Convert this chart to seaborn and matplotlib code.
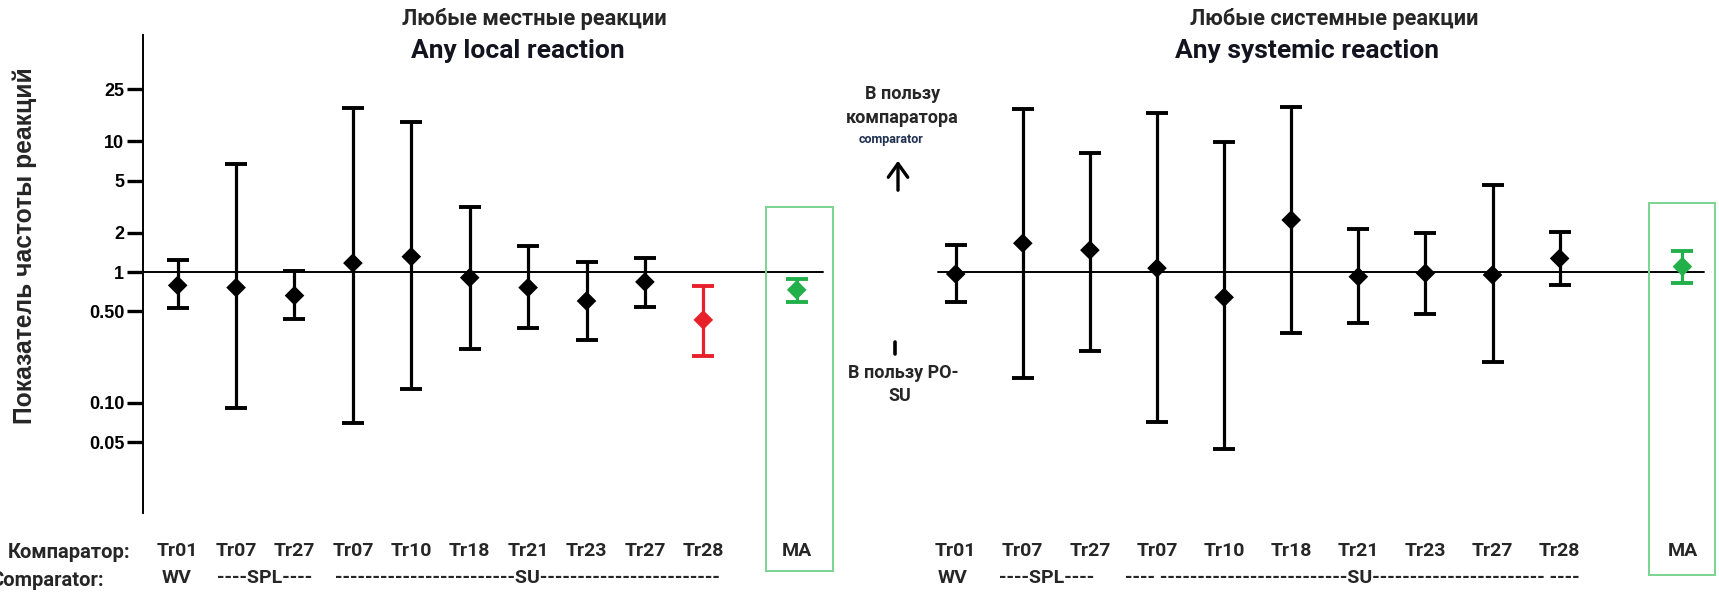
import numpy as np
import pandas as pd
import matplotlib
matplotlib.use("Agg")
import matplotlib.pyplot as plt
from matplotlib.patches import Rectangle, FancyArrowPatch
from matplotlib.lines import Line2D
import seaborn as sns

# ---------------------------------------------------------------- data
trial_labels = ["Tr01", "Tr07", "Tr27", "Tr07", "Tr10", "Tr18",
                "Tr21", "Tr23", "Tr27", "Tr28", "MA"]

local_ratio = [0.79, 0.76, 0.66, 1.17, 1.31, 0.905, 0.76, 0.60, 0.84, 0.43, 0.73]
local_low = [0.53, 0.091, 0.435, 0.070, 0.127, 0.256, 0.37, 0.30, 0.54, 0.228, 0.59]
local_high = [1.23, 6.7, 1.01, 18.1, 14.0, 3.13, 1.58, 1.20, 1.29, 0.78, 0.88]
local_kind = ["trial"] * 9 + ["signif", "pooled"]

systemic_ratio = [0.965, 1.66, 1.47, 1.07, 0.64, 2.5, 0.92, 0.98, 0.95, 1.27, 1.10]
systemic_low = [0.59, 0.155, 0.25, 0.071, 0.044, 0.343, 0.41, 0.48, 0.206, 0.795, 0.83]
systemic_high = [1.61, 17.6, 8.2, 16.4, 9.8, 18.4, 2.13, 2.0, 4.63, 2.03, 1.46]
systemic_kind = ["trial"] * 10 + ["pooled"]

y_ticks = [0.05, 0.10, 0.50, 1, 2, 5, 10, 25]
y_tick_labels = ["0.05", "0.10", "0.50", "1", "2", "5", "10", "25"]

kind_colors = {"trial": "black", "signif": "#e8202a", "pooled": "#22b04b"}

# --------------------------------------------------------------- style
sns.set_theme(style="white")
plt.rcParams["font.family"] = ["Roboto", "DejaVu Sans"]
CAL = ["Roboto", "DejaVu Sans"]
ARIAL = ["Liberation Sans", "DejaVu Sans"]

W, H = 1719, 592
fig = plt.figure(figsize=(W / 100, H / 100), dpi=100)


def rect(x0, y0, x1, y1):
    return [x0 / W, 1 - y1 / H, (x1 - x0) / W, (y1 - y0) / H]


def fx(px):
    return px / W


def fy(py):
    return 1 - py / H


ax1 = fig.add_axes(rect(143, 35, 835, 513))
ax2 = fig.add_axes(rect(925, 35, 1719, 513))

pos_local = np.r_[np.arange(10), 10.6]
pos_sys = np.r_[np.arange(10), 10.83]


def draw_panel(ax, pos, ratio, low, high, kind):
    df = pd.DataFrame({"pos": pos, "ratio": ratio, "low": low,
                       "high": high, "kind": kind})
    ax.set_yscale("log")
    for _, r in df.iterrows():
        ax.errorbar(r["pos"], r["ratio"],
                    yerr=[[r["ratio"] - r["low"]], [r["high"] - r["ratio"]]],
                    fmt="none", ecolor=kind_colors[r["kind"]],
                    elinewidth=2.3, capsize=7.8, capthick=2.8, zorder=2)
    sns.scatterplot(data=df, x="pos", y="ratio", hue="kind",
                    palette=kind_colors, marker="D", s=100, linewidth=0,
                    legend=False, ax=ax, zorder=3)
    ax.set_xlabel("")
    ax.set_ylabel("")
    ax.set_ylim(0.01432, 65.1)
    ax.set_xticks(pos, trial_labels)
    ax.tick_params(axis="x", length=0, pad=21, labelsize=14)
    for t in ax.get_xticklabels():
        t.set_fontfamily(CAL)
        t.set_fontweight("bold")
    ax.yaxis.set_minor_locator(matplotlib.ticker.NullLocator())
    for s in ("top", "right", "bottom"):
        ax.spines[s].set_visible(False)
    ax.patch.set_alpha(0)
    return df


draw_panel(ax1, pos_local, local_ratio, local_low, local_high, local_kind)
draw_panel(ax2, pos_sys, systemic_ratio, systemic_low, systemic_high, systemic_kind)

ax1.set_xlim(-0.594, 11.255)
ax2.set_xlim(-0.4575, 11.375)

# reference line at ratio = 1
ax1.axhline(1, xmin=0, xmax=0.9827, color="black", lw=1.4, zorder=1)
ax2.axhline(1, xmin=0.016, xmax=0.9815, color="black", lw=1.4, zorder=1)

# y axis on the left panel only
ax1.spines["left"].set_color("black")
ax1.spines["left"].set_linewidth(1.4)
ax1.set_yticks(y_ticks, y_tick_labels)
ax1.tick_params(axis="y", left=True, length=11.5, width=2.4, pad=2,
                labelsize=13, colors="black")
for t in ax1.get_yticklabels():
    t.set_fontfamily(ARIAL)
    t.set_fontweight("bold")

ax2.spines["left"].set_visible(False)
ax2.set_yticks([])

# frames round the pooled estimates
box_green = "#7dd38e"
for x0, y0, x1, y1 in [(765.7, 207, 833.3, 571), (1649, 203, 1715, 575)]:
    fig.add_artist(Rectangle((fx(x0), fy(y1)), (x1 - x0) / W, (y1 - y0) / H,
                             transform=fig.transFigure, fill=False,
                             ec=box_green, lw=1.4))

# titles
fig.text(fx(534), fy(19), "Любые местные реакции", ha="center", va="center",
         fontsize=15.7, fontweight="bold", family=CAL)
fig.text(fx(518), fy(51), "Any local reaction", ha="center", va="center",
         fontsize=19, fontweight="bold", family=CAL, color="#141420")
fig.text(fx(1334), fy(19), "Любые системные реакции", ha="center", va="center",
         fontsize=15.7, fontweight="bold", family=CAL)
fig.text(fx(1307), fy(51), "Any systemic reaction", ha="center", va="center",
         fontsize=19, fontweight="bold", family=CAL, color="#141420")

# y axis title
fig.text(fx(25), fy(246), "Показатель частоты реакций", rotation=90,
         ha="center", va="center", fontsize=17.7, fontweight="bold", family=ARIAL)

# direction notes between panels
fig.text(fx(903), fy(94), "В пользу", ha="center", va="center",
         fontsize=13, fontweight="bold", family=CAL)
fig.text(fx(902), fy(118), "компаратора", ha="center", va="center",
         fontsize=13, fontweight="bold", family=CAL)
fig.text(fx(891), fy(140), "comparator", ha="center", va="center",
         fontsize=9, fontweight="bold", family=CAL, color="#1f3050")
fig.add_artist(FancyArrowPatch(
    (fx(898), fy(193)), (fx(898), fy(158)), transform=fig.transFigure,
    arrowstyle="->,head_length=7,head_width=5", lw=2.4, color="black",
    mutation_scale=1.4))
fig.add_artist(Line2D([fx(895), fx(895)], [fy(342), fy(354)],
                      transform=fig.transFigure, lw=2.6, color="black"))
fig.text(fx(903), fy(373), "В пользу PO-", ha="center", va="center",
         fontsize=13, fontweight="bold", family=CAL)
fig.text(fx(900), fy(396), "SU", ha="center", va="center",
         fontsize=13, fontweight="bold", family=CAL)

# comparator rows under the axes
fig.text(fx(130), fy(553), "Компаратор:", ha="right", va="center",
         fontsize=14.5, fontweight="bold", family=CAL)
fig.text(fx(-10), fy(580), "Comparator:", ha="left", va="center",
         fontsize=14.5, fontweight="bold", family=CAL)

row_y = fy(578)
for x, s in [(177, "WV"), (265, "----SPL----"),
             (527, "-" * 24 + "SU" + "-" * 24),
             (953, "WV"), (1047, "----SPL----"),
             (1352, "---- " + "-" * 25 + "SU" + "-" * 23 + " ----")]:
    fig.text(fx(x), row_y, s, ha="center", va="center",
             fontsize=14, fontweight="bold", family=CAL)

fig.savefig("out.png", dpi=100)
